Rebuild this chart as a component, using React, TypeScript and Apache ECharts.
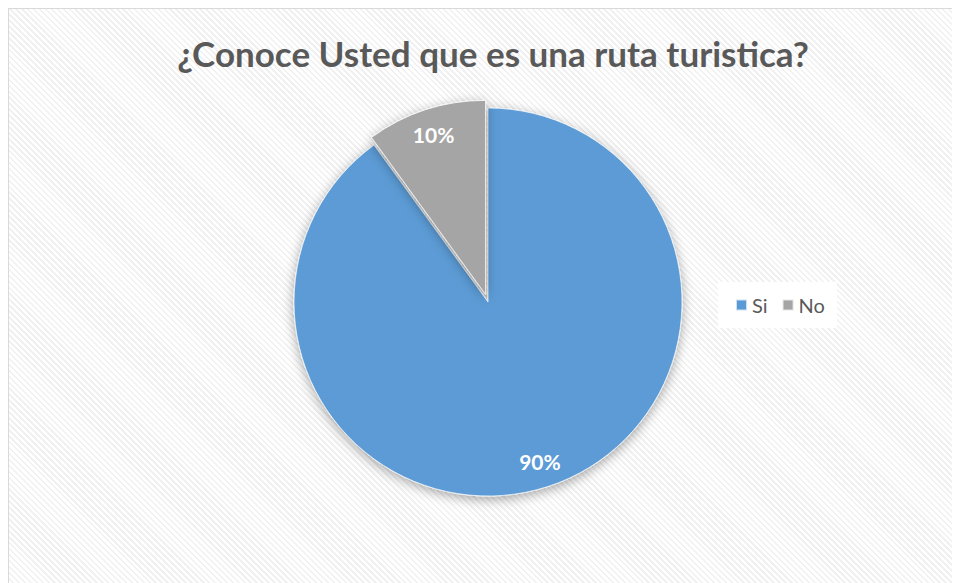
import React, { useEffect, useRef } from "react";
import * as echarts from "echarts";

const TITLE = "¿Conoce Usted que es una ruta turistica?";
const categories = ["Si", "No"];
const values = [90, 10];
const colors = ["#5B9BD5", "#A5A5A5"];

export default function App() {
  const ref = useRef<HTMLDivElement>(null);
  useEffect(() => {
    document.documentElement.style.overflow = "hidden";
    document.body.style.overflow = "hidden";
    const chart = echarts.init(ref.current!, null, { renderer: "svg" });
    const font = "Lato, 'Open Sans', sans-serif";
    const data = categories.map((name, i) => ({
      name,
      value: values[i],
      selected: name === "No",
      itemStyle: { color: colors[i] },
    }));
    chart.setOption({
      animation: false,
      backgroundColor: "transparent",
      title: {
        text: TITLE,
        left: 479,
        top: 21,
        textAlign: "center",
        textStyle: { fontFamily: font, fontSize: 35, fontWeight: "bold", color: "#595959" },
      },
      legend: {
        data: categories,
        left: 709,
        top: 273,
        orient: "horizontal",
        icon: "rect",
        itemWidth: 11,
        itemHeight: 11,
        itemGap: 14,
        padding: [13, 12, 13, 17],
        backgroundColor: "#ffffff",
        selectedMode: false,
        textStyle: { fontFamily: font, fontSize: 20, color: "#595959" },
      },
      series: [
        {
          type: "pie",
          center: [479, 293],
          radius: [0, 194],
          startAngle: 90,
          clockwise: true,
          selectedMode: "single",
          selectedOffset: 8,
          silent: true,
          label: { show: false },
          labelLine: { show: false },
          itemStyle: {
            borderColor: "rgba(255,255,255,0.7)",
            borderWidth: 1,
            shadowBlur: 12,
            shadowColor: "rgba(0,0,0,0.35)",
            shadowOffsetY: 3,
          },
          data,
        },
        {
          type: "pie",
          center: [479, 293],
          radius: [144, 186],
          startAngle: 90,
          clockwise: true,
          selectedMode: "single",
          selectedOffset: 8,
          silent: true,
          itemStyle: { color: "transparent", borderWidth: 0 },
          label: {
            show: true,
            position: "inside",
            formatter: "{d}%",
            fontFamily: font,
            fontSize: 21,
            fontWeight: "bold",
            color: "#ffffff",
          },
          labelLine: { show: false },
          data: categories.map((name, i) => ({
            name,
            value: values[i],
            selected: name === "No",
            itemStyle: { color: "transparent" },
          })),
        },
      ],
    });
    return () => chart.dispose();
  }, []);
  return (
    <div
      ref={ref}
      style={{
        width: 951,
        height: 574,
        borderLeft: "1px solid #d9d9d9",
        borderTop: "1px solid #d9d9d9",
        background:
          "repeating-linear-gradient(45deg, #ffffff 0px, #ffffff 2.4px, #f1f1f1 2.4px, #f1f1f1 4.2px)",
      }}
    />
  );
}
